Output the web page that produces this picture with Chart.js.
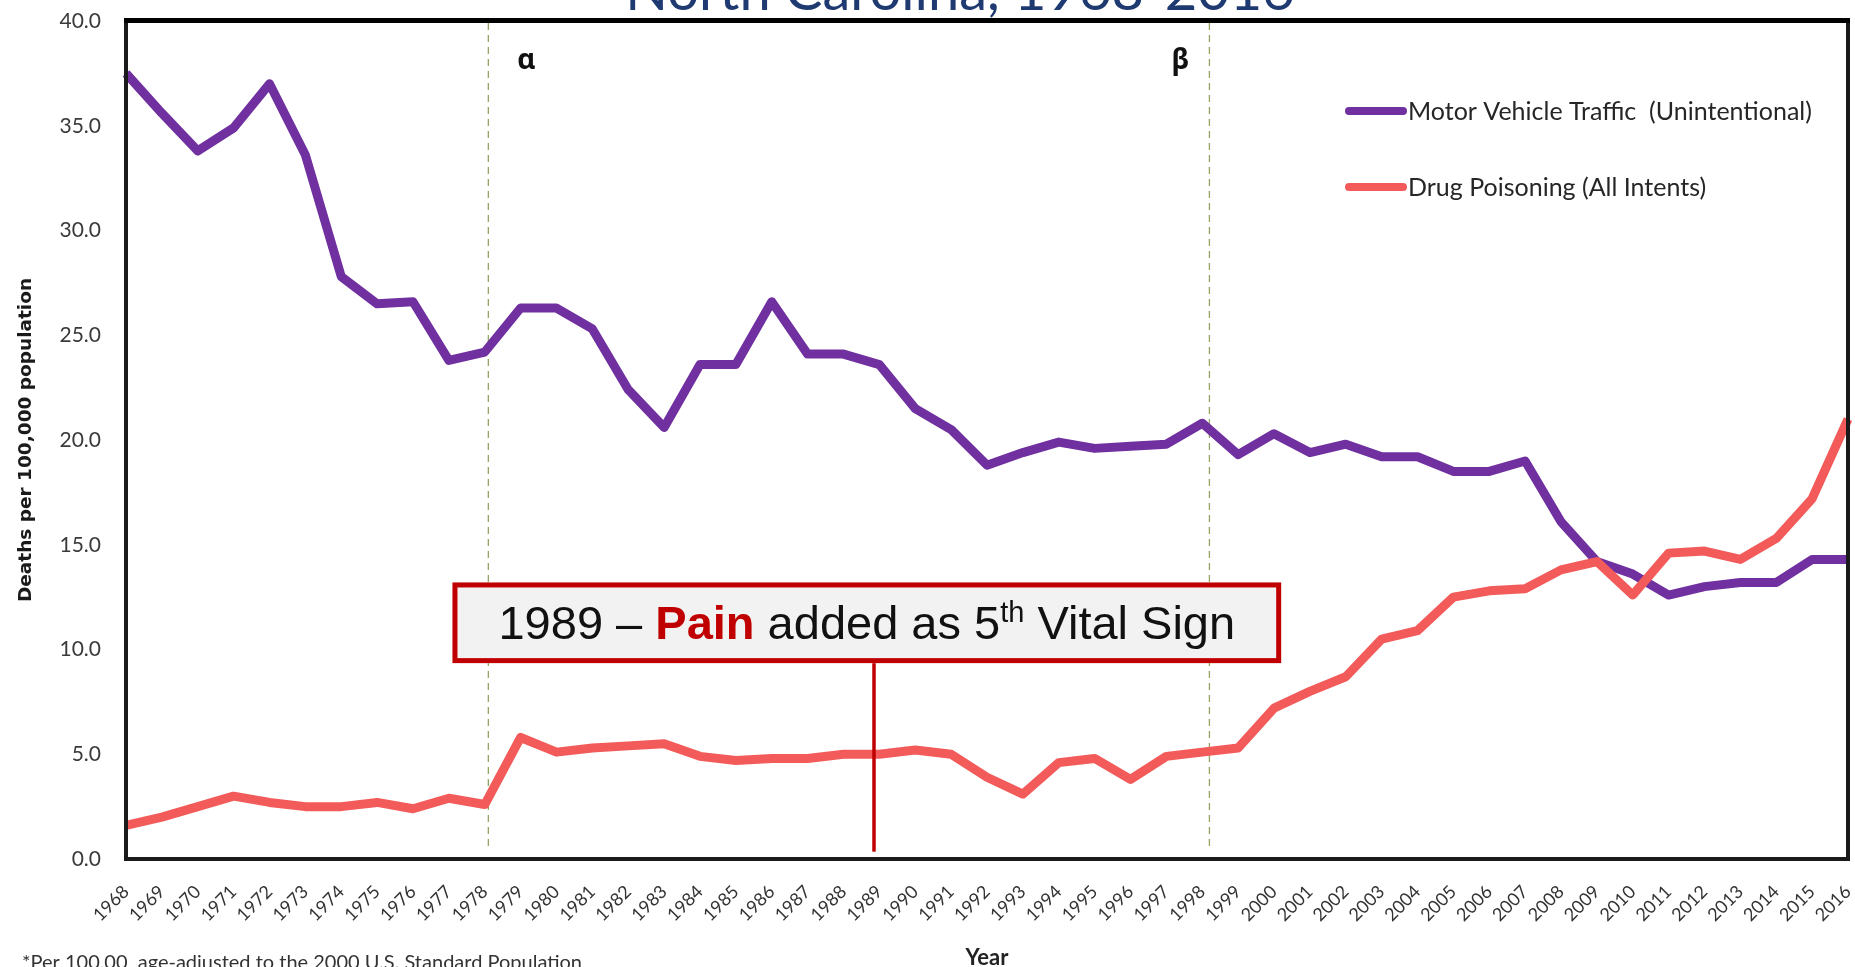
<!DOCTYPE html>
<html>
<head>
<meta charset="utf-8">
<script src="https://cdn.jsdelivr.net/npm/chart.js@4.4.0/dist/chart.umd.min.js"></script>
<style>
  html, body { margin: 0; padding: 0; background: #fff; overflow: hidden; }
</style>
</head>
<body>
<canvas id="deathsChart" width="1855" height="967"></canvas>
<script>
// Age-adjusted deaths per 100,000, North Carolina
const years = ['1968', '1969', '1970', '1971', '1972', '1973', '1974', '1975', '1976', '1977',
    '1978', '1979', '1980', '1981', '1982', '1983', '1984', '1985', '1986', '1987',
    '1988', '1989', '1990', '1991', '1992', '1993', '1994', '1995', '1996', '1997',
    '1998', '1999', '2000', '2001', '2002', '2003', '2004', '2005', '2006', '2007',
    '2008', '2009', '2010', '2011', '2012', '2013', '2014', '2015', '2016'];

const motorVehicle = [37.5, 35.6, 33.8, 34.9, 37.0, 33.6, 27.8, 26.5, 26.6, 23.8,
    24.2, 26.3, 26.3, 25.3, 22.4, 20.6, 23.6, 23.6, 26.6, 24.1,
    24.1, 23.6, 21.5, 20.5, 18.8, 19.4, 19.9, 19.6, 19.7, 19.8,
    20.8, 19.3, 20.3, 19.4, 19.8, 19.2, 19.2, 18.5, 18.5, 19.0,
    16.1, 14.2, 13.6, 12.6, 13.0, 13.2, 13.2, 14.3, 14.3];

const drugPoisoning = [1.6, 2.0, 2.5, 3.0, 2.7, 2.5, 2.5, 2.7, 2.4, 2.9,
    2.6, 5.8, 5.1, 5.3, 5.4, 5.5, 4.9, 4.7, 4.8, 4.8,
    5.0, 5.0, 5.2, 5.0, 3.9, 3.1, 4.6, 4.8, 3.8, 4.9,
    5.1, 5.3, 7.2, 8.0, 8.7, 10.5, 10.9, 12.5, 12.8, 12.9,
    13.8, 14.2, 12.6, 14.6, 14.7, 14.3, 15.3, 17.2, 21.0];

const seriesNames = ['Motor Vehicle Traffic  (Unintentional)', 'Drug Poisoning (All Intents)'];

// vertical reference lines (year positions)
const markerNames = ['α', 'β'];
const markerYears = [1978.1, 1998.2];

// callout
const calloutYear = 1988.85;

const firstYear = 1968;
const purple = '#7030A0';
const salmon = '#F35B5B';
const darkRed = '#C00000';

const overlay = {
    id: 'overlay',
    beforeDatasetsDraw(chart) {
        const { ctx, chartArea, scales: { x, y } } = chart;
        ctx.save();
        ctx.strokeStyle = '#93A463';
        ctx.lineWidth = 1.3;
        ctx.setLineDash([7, 5]);
        markerYears.forEach((yr) => {
            const px = x.getPixelForValue(yr - firstYear);
            ctx.beginPath();
            ctx.moveTo(px, chartArea.top + 2);
            ctx.lineTo(px, y.getPixelForValue(0.45));
            ctx.stroke();
        });
        ctx.restore();
    },
    afterDatasetsDraw(chart) {
        const { ctx, chartArea, scales: { x, y } } = chart;
        ctx.save();

        // greek labels beside the dashed lines
        ctx.fillStyle = '#111';
        ctx.font = 'bold 28px "Noto Sans"';
        ctx.textAlign = 'center';
        ctx.textBaseline = 'middle';
        const shift = [38, -29];
        markerYears.forEach((yr, i) => {
            ctx.fillText(markerNames[i], x.getPixelForValue(yr - firstYear) + shift[i], chartArea.top + 40);
        });

        // callout box
        const bx0 = x.getPixelForValue(1977.1 - firstYear);
        const bx1 = x.getPixelForValue(2000.2 - firstYear);
        const by0 = y.getPixelForValue(13.2);
        const by1 = y.getPixelForValue(9.35);
        const px = x.getPixelForValue(calloutYear - firstYear);

        ctx.strokeStyle = darkRed;
        ctx.lineWidth = 3.5;
        ctx.beginPath();
        ctx.moveTo(px, by1);
        ctx.lineTo(px, y.getPixelForValue(0.35));
        ctx.stroke();

        ctx.fillStyle = '#F2F2F2';
        ctx.fillRect(bx0, by0, bx1 - bx0, by1 - by0);
        ctx.lineWidth = 5;
        ctx.strokeRect(bx0 + 2.5, by0 + 2.5, bx1 - bx0 - 5, by1 - by0 - 5);

        const big = 47;
        const segs = [
            { t: '1989 – ', f: big + 'px "Liberation Sans"', c: '#111', up: 0 },
            { t: 'Pain', f: 'bold ' + big + 'px "Liberation Sans"', c: darkRed, up: 0 },
            { t: ' added as 5', f: big + 'px "Liberation Sans"', c: '#111', up: 0 },
            { t: 'th', f: '29px "Liberation Sans"', c: '#111', up: 17 },
            { t: ' Vital Sign', f: big + 'px "Liberation Sans"', c: '#111', up: 0 }
        ];
        let total = 0;
        segs.forEach((s) => { ctx.font = s.f; s.w = ctx.measureText(s.t).width; total += s.w; });
        let cx = (bx0 + bx1) / 2 - total / 2;
        const base = (by0 + by1) / 2 + 16;
        ctx.textAlign = 'left';
        ctx.textBaseline = 'alphabetic';
        segs.forEach((s) => {
            ctx.font = s.f;
            ctx.fillStyle = s.c;
            ctx.fillText(s.t, cx, base - s.up);
            cx += s.w;
        });

        // plot frame
        ctx.strokeStyle = '#1a1a1a';
        ctx.lineWidth = 4;
        ctx.strokeRect(chartArea.left, chartArea.top, chartArea.right - chartArea.left, chartArea.bottom - chartArea.top);
        ctx.fillStyle = '#000';
        ctx.fillRect(chartArea.left - 2, chartArea.top - 3, chartArea.right - chartArea.left + 4, 5);

        // legend inside the plot
        ctx.lineCap = 'round';
        ctx.lineWidth = 8;
        ctx.font = '25px Lato';
        ctx.textBaseline = 'middle';
        chart.data.datasets.forEach((ds, i) => {
            const ly = chartArea.top + 90 + i * 76;
            const lx = chartArea.right - 499;
            ctx.strokeStyle = ds.borderColor;
            ctx.beginPath();
            ctx.moveTo(lx, ly);
            ctx.lineTo(lx + 54, ly);
            ctx.stroke();
            ctx.fillStyle = '#262626';
            ctx.fillText(ds.label, lx + 59, ly + 1);
        });
        ctx.restore();
    },
    afterDraw(chart) {
        const { ctx } = chart;
        ctx.save();
        // title, mostly cropped off the top of the picture
        ctx.fillStyle = '#1F3A70';
        ctx.font = '56px Lato';
        ctx.textAlign = 'center';
        ctx.textBaseline = 'alphabetic';
        ctx.fillText('North Carolina, 1968-2016', 960, 10);

        // footnote
        ctx.fillStyle = '#333';
        ctx.font = '20px Lato';
        ctx.textAlign = 'left';
        ctx.fillText('*Per 100,00  age-adjusted to the 2000 U.S. Standard Population', 22, 969);
        ctx.restore();
    }
};

const ctx = document.getElementById('deathsChart').getContext('2d');
const deathsChart = new Chart(ctx, {
    type: 'line',
    data: {
        labels: years,
        datasets: [
            {
                label: seriesNames[0],
                data: motorVehicle,
                borderColor: purple,
                borderWidth: 9,
                borderJoinStyle: 'round',
                pointRadius: 0,
                tension: 0,
                fill: false,
                order: 1
            },
            {
                label: seriesNames[1],
                data: drugPoisoning,
                borderColor: salmon,
                borderWidth: 9,
                borderJoinStyle: 'round',
                pointRadius: 0,
                tension: 0,
                fill: false,
                order: 0
            }
        ]
    },
    options: {
        responsive: false,
        animation: false,
        layout: { padding: { top: 21, right: 7, left: 0, bottom: 0 } },
        plugins: {
            legend: { display: false },
            tooltip: { enabled: false }
        },
        scales: {
            x: {
                grid: { display: false, drawTicks: false },
                border: { display: false },
                ticks: {
                    autoSkip: false,
                    minRotation: 45,
                    maxRotation: 45,
                    padding: 22,
                    color: '#333',
                    font: { family: 'Lato', size: 18 }
                },
                title: {
                    display: true,
                    text: 'Year',
                    color: '#222',
                    font: { family: 'Lato', size: 22, weight: 'bold' },
                    padding: { top: 0, bottom: -4 }
                },
                afterFit(scale) {
                    scale.height = 108;
                    scale.paddingLeft = 0;
                    scale.paddingRight = 0;
                }
            },
            y: {
                min: 0,
                max: 40,
                grid: { display: false, drawTicks: false },
                border: { display: false },
                ticks: {
                    stepSize: 5,
                    padding: 25,
                    color: '#3a3a3a',
                    font: { family: 'Lato', size: 21 },
                    callback: (v) => v.toFixed(1)
                },
                title: {
                    display: true,
                    text: 'Deaths per 100,000 population',
                    color: '#1a1a1a',
                    font: { family: 'DejaVu Sans', size: 18.5, weight: 'bold' },
                    padding: { top: 15, bottom: 0 }
                },
                afterFit(scale) {
                    scale.width = 126;
                    scale.paddingTop = 0;
                    scale.paddingBottom = 0;
                }
            }
        }
    },
    plugins: [overlay]
});
</script>
</body>
</html>
